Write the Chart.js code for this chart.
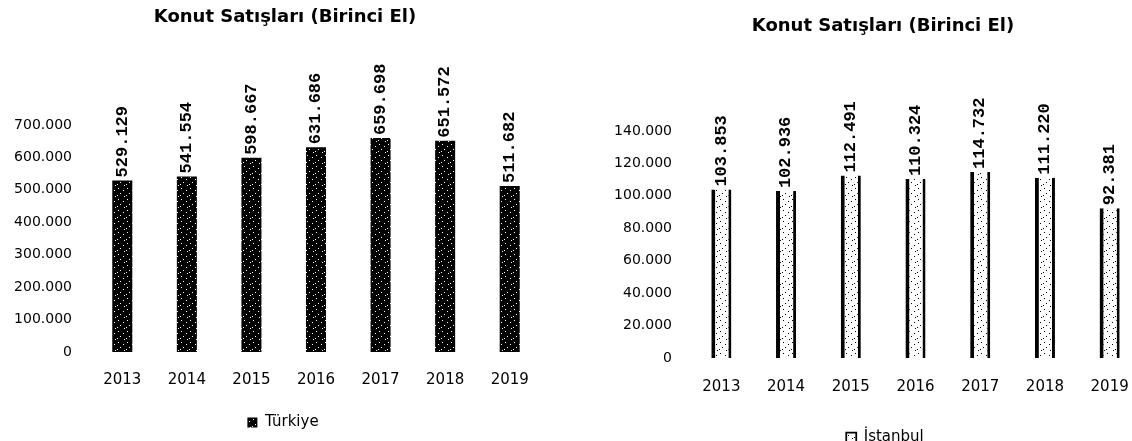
<!DOCTYPE html>
<html>
<head>
<meta charset="utf-8">
<script src="https://cdn.jsdelivr.net/npm/chart.js@4/dist/chart.umd.min.js"></script>
<style>
  html, body { margin: 0; padding: 0; background: #fff; overflow: hidden; }
  #wrap { position: relative; width: 1132px; height: 441px; overflow: hidden; }
  canvas { position: absolute; top: 0; }
</style>
</head>
<body>
<div id="wrap">
  <canvas id="turkiyeChart" width="566" height="441" style="left:0"></canvas>
  <canvas id="istanbulChart" width="590" height="455" style="left:566px"></canvas>
</div>
<script>
const years = ['2013', '2014', '2015', '2016', '2017', '2018', '2019'];
const turkiyeSales = [529129, 541554, 598667, 631686, 659698, 651572, 511682];
const istanbulSales = [103853, 102936, 112491, 110324, 114732, 111220, 92381];
const chartTitle = 'Konut Satışları (Birinci El)';

// thousands with a dot, as in the original
function fmt(v) {
  return String(v).replace(/\B(?=(\d{3})+(?!\d))/g, '.');
}

// speckled fill like the excel pattern
function speckle(bg, fg) {
  const c = document.createElement('canvas');
  c.width = 9; c.height = 11;
  const x = c.getContext('2d');
  x.fillStyle = bg;
  x.fillRect(0, 0, 9, 11);
  x.fillStyle = fg;
  [[1, 1], [6, 3], [3, 6], [7, 9], [0, 8]].forEach(p => x.fillRect(p[0], p[1], 1, 1));
  return x.createPattern(c, 'repeat');
}

const barLabels = {
  id: 'barLabels',
  afterDatasetsDraw(chart) {
    const ctx = chart.ctx;
    const ds = chart.data.datasets[0];
    chart.getDatasetMeta(0).data.forEach((bar, i) => {
      ctx.save();
      ctx.translate(bar.x, bar.y - 3);
      ctx.rotate(-Math.PI / 2);
      ctx.font = 'bold 17px "Liberation Mono"';
      ctx.fillStyle = '#000';
      ctx.textAlign = 'left';
      ctx.textBaseline = 'middle';
      ctx.fillText(fmt(ds.data[i]), 0, 0);
      ctx.restore();
    });
  }
};

// title is not centred on the canvas in the original, so draw it here
const sideTitle = {
  id: 'sideTitle',
  afterLayout(chart, args, opts) {
    // nudge the legend sideways too
    chart.legend.left += opts.legendShift;
    chart.legend.right += opts.legendShift;
  },
  afterDraw(chart, args, opts) {
    const ctx = chart.ctx;
    ctx.save();
    ctx.font = 'bold 18px "DejaVu Sans"';
    ctx.fillStyle = '#000';
    ctx.textAlign = 'center';
    ctx.textBaseline = 'middle';
    ctx.fillText(opts.text, opts.x, opts.y);
    ctx.restore();
  }
};

function makeChart(id, label, values, fill, border, yMax, yStep, o) {
  return new Chart(document.getElementById(id), {
    type: 'bar',
    data: {
      labels: years,
      datasets: [{
        label: label,
        data: values,
        backgroundColor: fill,
        borderColor: '#000',
        borderWidth: border,
        borderSkipped: false,
        barPercentage: 0.31,
        categoryPercentage: 1
      }]
    },
    options: {
      responsive: false,
      animation: false,
      events: [],
      layout: { padding: { left: 0, right: o.padRight, top: o.padTop, bottom: o.padBottom } },
      plugins: {
        sideTitle: { text: chartTitle, x: o.titleX, y: o.titleY, legendShift: o.legendShift },
        legend: {
          position: 'bottom',
          labels: {
            color: '#000',
            font: { family: 'DejaVu Sans', size: 15 },
            boxWidth: 10,
            boxHeight: 10,
            padding: o.legendPad
          }
        },
        tooltip: { enabled: false }
      },
      scales: {
        x: {
          grid: { display: false, drawTicks: false },
          border: { display: false },
          ticks: { color: '#000', font: { family: 'DejaVu Sans', size: 15 }, padding: o.xPad }
        },
        y: {
          min: 0,
          max: yMax,
          grid: { display: false, drawTicks: false },
          border: { display: false },
          ticks: {
            stepSize: yStep,
            color: '#000',
            font: { family: 'DejaVu Sans', size: 14 },
            padding: o.yPad,
            callback: v => fmt(v)
          },
          afterFit: s => { s.width = o.yWidth; }
        }
      }
    },
    plugins: [barLabels, sideTitle]
  });
}

makeChart('turkiyeChart', 'Türkiye', turkiyeSales, speckle('#000', '#fff'), 0, 700000, 100000, {
  padRight: 24, padTop: 125, padBottom: 1, titleX: 285, titleY: 17, legendShift: 12,
  legendPad: 7, xPad: 19, yPad: 18, yWidth: 90
});

makeChart('istanbulChart', 'İstanbul', istanbulSales, speckle('#fff', '#000'),
  { left: 4, right: 3, top: 0, bottom: 0 }, 140000, 20000, {
  padRight: 14, padTop: 131, padBottom: 0, titleX: 317, titleY: 26, legendShift: 31,
  legendPad: 14, xPad: 20, yPad: 17, yWidth: 123
});
</script>
</body>
</html>
